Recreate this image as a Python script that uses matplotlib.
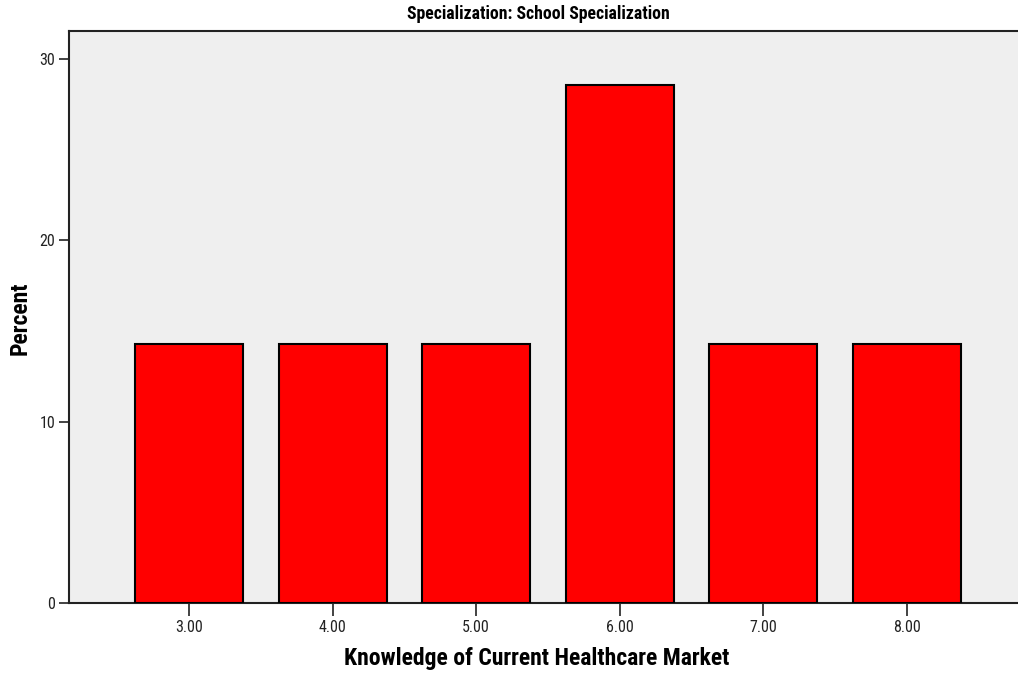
import matplotlib
matplotlib.use("Agg")
import matplotlib.pyplot as plt

categories = [3.0, 4.0, 5.0, 6.0, 7.0, 8.0]
tick_labels = ["3.00", "4.00", "5.00", "6.00", "7.00", "8.00"]
percent = [14.29, 14.29, 14.29, 28.57, 14.29, 14.29]

plt.rcParams['font.family'] = ['Roboto Condensed', 'Liberation Sans', 'DejaVu Sans']

W, H = 1018, 681
fig = plt.figure(figsize=(W/100, H/100), dpi=100)
ax = fig.add_axes([69/W, (H-603)/H, (1027-69)/W, 572/H])
ax.set_facecolor("#EFEFEF")
ax.bar(categories, percent, width=0.752, color="#FF0000", edgecolor="black", linewidth=1.5, zorder=3)
ax.set_xlim(2.164, 8.836)
ax.set_ylim(0, 31.55)
ax.set_xticks(categories)
ax.set_xticklabels(tick_labels)
ax.set_yticks([0, 10, 20, 30])
ax.tick_params(axis='both', direction='out', width=1.2, labelsize=11.5, color="#222222", labelcolor="#222222")
ax.tick_params(axis='x', length=9.4, pad=3.2)
ax.tick_params(axis='y', length=7.2, pad=2.6)
for s in ax.spines.values():
    s.set_linewidth(1.5)
    s.set_color("#222222")

fig.text(538/W, 1-14/H, "Specialization: School Specialization", ha="center", va="center", fontsize=12.8, fontweight="bold")
fig.text(537/W, 1-659/H, "Knowledge of Current Healthcare Market", ha="center", va="center", fontsize=17, fontweight="bold")
fig.text(20/W, 1-318/H, "Percent", ha="center", va="center", rotation=90, fontsize=17, fontweight="bold")

fig.savefig("out.png", dpi=100)
